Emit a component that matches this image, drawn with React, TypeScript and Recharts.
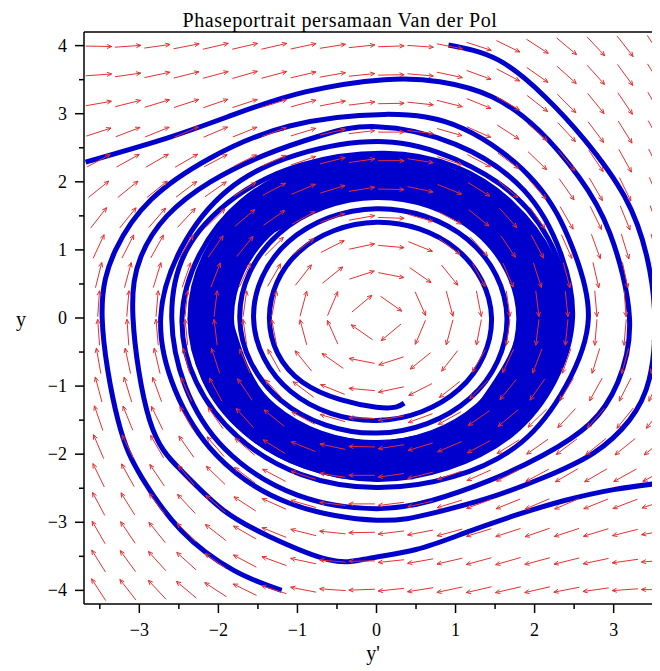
import React from 'react';
import { ComposedChart, XAxis, YAxis, Scatter, Line, ReferenceLine } from 'recharts';

// direction field grid (cell centres of a 20x20 grid)
const colU = [-3.515, -3.145, -2.775, -2.405, -2.035, -1.665, -1.295, -0.925, -0.555, -0.185,
  0.185, 0.555, 0.925, 1.295, 1.665, 2.035, 2.405, 2.775, 3.145, 3.515];
const rowV = [-3.99, -3.57, -3.15, -2.73, -2.31, -1.89, -1.47, -1.05, -0.63, -0.21,
  0.21, 0.63, 1.05, 1.47, 1.89, 2.31, 2.73, 3.15, 3.57, 3.99];

// arrow direction in degrees (counter-clockwise from +x), one row per rowV, bottom to top
const arrowAngles = [
  [123, 128, 133, 140, 147, 154, 162, 169, 176, -178, -174, -171, -168, -167, -167, -167, -169, -172, -176, 179],
  [122, 126, 132, 138, 145, 152, 160, 168, 175, -179, -174, -170, -167, -165, -164, -165, -166, -168, -172, -176],
  [120, 124, 129, 135, 142, 150, 158, 166, 174, -179, -173, -169, -165, -163, -162, -161, -162, -163, -166, -170],
  [118, 122, 127, 133, 139, 147, 156, 164, 173, 180, -173, -167, -163, -160, -158, -157, -157, -158, -159, -162],
  [116, 119, 124, 129, 136, 143, 152, 162, 171, 180, -172, -166, -161, -156, -153, -152, -150, -150, -151, -152],
  [113, 116, 120, 125, 131, 139, 148, 158, 168, 179, -171, -163, -157, -152, -148, -145, -143, -141, -141, -141],
  [109, 112, 116, 120, 125, 132, 141, 152, 164, 178, -170, -160, -151, -145, -140, -136, -133, -131, -129, -128],
  [105, 107, 110, 114, 118, 124, 132, 143, 158, 175, -168, -153, -142, -135, -129, -125, -121, -119, -117, -115],
  [100, 102, 103, 105, 108, 113, 119, 129, 145, 169, -162, -141, -128, -120, -115, -111, -109, -107, -105, -104],
  [94, 94, 95, 96, 97, 98, 101, 105, 114, 145, -140, -113, -105, -101, -98, -97, -96, -95, -95, -94],
  [86, 85, 85, 84, 83, 82, 79, 75, 67, 40, -35, -66, -75, -79, -82, -83, -84, -85, -86, -86],
  [76, 75, 73, 71, 69, 65, 60, 52, 39, 18, -11, -35, -51, -61, -67, -72, -75, -77, -78, -80],
  [65, 63, 61, 59, 55, 51, 45, 38, 27, 12, -5, -22, -37, -48, -56, -62, -66, -70, -73, -75],
  [52, 51, 49, 47, 44, 40, 35, 29, 20, 10, -2, -16, -28, -39, -48, -55, -60, -64, -68, -71],
  [39, 39, 39, 37, 35, 32, 28, 23, 17, 9, -1, -12, -22, -32, -41, -49, -55, -60, -64, -67],
  [28, 29, 30, 30, 28, 27, 24, 19, 14, 8, 0, -9, -18, -28, -37, -44, -51, -56, -61, -64],
  [18, 21, 22, 23, 23, 22, 20, 17, 13, 7, 0, -7, -16, -24, -33, -41, -47, -53, -58, -62],
  [10, 14, 17, 18, 19, 18, 17, 15, 11, 7, 1, -6, -14, -22, -30, -38, -45, -51, -56, -60],
  [4, 8, 12, 14, 15, 16, 15, 13, 10, 6, 1, -5, -12, -20, -28, -35, -42, -48, -54, -58],
  [-1, 4, 8, 11, 13, 13, 13, 12, 9, 6, 2, -4, -11, -18, -26, -33, -40, -47, -52, -57],
];

const xTicks = [-3.5, -3, -2.5, -2, -1.5, -1, -0.5, 0, 0.5, 1, 1.5, 2, 2.5, 3, 3.5];
const yTicks = [-4, -3.5, -3, -2.5, -2, -1.5, -1, -0.5, 0, 0.5, 1, 1.5, 2, 2.5, 3, 3.5, 4];

// trajectories [y', y]
const trajA = [[-3.68, 2.29], [-2.63, 2.65], [-1.8, 2.99], [-0.9, 3.32], [0.1, 3.5], [0.8, 3.47], [1.46, 3.25],
  [2.05, 2.76], [2.56, 2.07], [2.95, 1.25], [3.2, 0], [3.05, -0.95], [2.7, -1.55], [2.1, -2.02], [1.4, -2.4],
  [0.7, -2.68], [0, -2.8], [-1.0, -2.6], [-1.92, -1.92], [-2.42, -1.0], [-2.59, 0], [-2.4, 1.0], [-1.78, 1.78],
  [-0.95, 2.25], [0.1, 2.42], [1.0, 2.22], [1.7, 1.7], [2.22, 0.9], [2.38, 0], [2.2, -0.92], [1.67, -1.67],
  [0.9, -2.18], [0, -2.34]];
const trajB = [[0.91, 4.01], [1.54, 3.79], [2.13, 3.25], [2.63, 2.62], [3.14, 1.78], [3.42, 0.9], [3.52, 0],
  [3.45, -0.9], [3.2, -1.5], [2.75, -1.98], [2.1, -2.35], [1.4, -2.65], [0.7, -2.87], [0, -2.97], [-1.1, -2.72],
  [-2.02, -2.02], [-2.55, -1.05], [-2.73, 0], [-2.47, 1.02], [-1.88, 1.88], [-1.0, 2.4], [0.1, 2.59], [1.0, 2.33],
  [1.77, 1.77], [2.27, 0.93], [2.43, 0], [2.22, -0.92], [1.68, -1.68], [0.9, -2.17], [0, -2.34], [-0.9, -2.15],
  [-1.65, -1.65]];
const trajC = [[3.62, -2.42], [3.0, -2.52], [2.38, -2.68], [1.75, -2.9], [1.11, -3.16], [0.5, -3.4], [-0.1, -3.53],
  [-0.6, -3.55], [-1.37, -3.2], [-1.96, -2.8], [-2.47, -2.24], [-2.87, -1.5], [-3.08, 0], [-2.98, 0.9],
  [-2.65, 1.5], [-2.1, 2.0], [-1.4, 2.4], [-0.7, 2.68], [0, 2.81], [1.0, 2.55], [1.87, 1.87], [2.33, 0.95],
  [2.48, 0], [2.25, -0.93], [1.71, -1.71], [0.9, -2.2], [0, -2.37], [-0.9, -2.18], [-1.67, -1.67], [-2.18, -0.9],
  [-2.36, 0]];
const trajD = [[-1.2, -4.0], [-1.8, -3.71], [-2.47, -3.12], [-2.97, -2.34], [-3.27, -1.5], [-3.47, 0], [-3.3, 1.0],
  [-2.85, 1.74], [-2.1, 2.35], [-1.1, 2.82], [0.1, 2.99], [1.1, 2.78], [2.0, 2.0], [2.48, 1.03], [2.68, 0],
  [2.4, -0.99], [1.83, -1.83], [0.97, -2.33], [0, -2.49], [-0.95, -2.3], [-1.75, -1.75], [-2.28, -0.94], [-2.46, 0],
  [-2.24, 0.93], [-1.71, 1.71], [-0.92, 2.2], [0, 2.38]];
const trajE = [[0.35, -1.25], [0, -1.31], [-0.94, -0.94], [-1.355, 0], [-0.976, 0.976], [0, 1.405], [1.011, 1.011],
  [1.455, 0], [1.046, -1.046], [0, -1.505], [-1.082, -1.082], [-1.555, 0], [-1.117, 1.117], [0, 1.605],
  [1.153, 1.153], [1.65, 0], [1.181, -1.181], [0, -1.69], [-1.209, -1.209], [-1.73, 0], [-1.237, 1.237], [0, 1.77],
  [1.262, 1.262], [1.8, 0], [1.283, -1.283], [0, -1.83], [-1.305, -1.305], [-1.86, 0]];

// the dense band around the limit cycle
const band1 = [[-1.315, 1.315], [0, 1.86], [1.315, 1.315], [1.86, 0], [1.315, -1.315], [0, -1.86], [-1.315, -1.315],
  [-1.86, 0], [-1.315, 1.315], [0, 1.86], [1.315, 1.315], [1.86, 0], [1.315, -1.315]];
const band2 = [[-1.372, 1.372], [0, 1.94], [1.372, 1.372], [1.94, 0], [1.372, -1.372], [0, -1.94], [-1.372, -1.372],
  [-1.94, 0], [-1.372, 1.372], [0, 1.94], [1.372, 1.372], [1.94, 0], [1.372, -1.372]];
const band3 = [[-1.428, 1.428], [0, 2.02], [1.428, 1.428], [2.02, 0], [1.428, -1.428], [0, -2.02], [-1.428, -1.428],
  [-2.02, 0], [-1.428, 1.428], [0, 2.02], [1.428, 1.428], [2.02, 0], [1.428, -1.428]];
const band4 = [[-1.485, 1.485], [0, 2.1], [1.485, 1.485], [2.1, 0], [1.485, -1.485], [0, -2.1], [-1.485, -1.485],
  [-2.1, 0], [-1.485, 1.485], [0, 2.1], [1.485, 1.485], [2.1, 0], [1.485, -1.485]];
const band5 = [[-1.541, 1.541], [0, 2.18], [1.541, 1.541], [2.18, 0], [1.541, -1.541], [0, -2.18], [-1.541, -1.541],
  [-2.18, 0], [-1.541, 1.541], [0, 2.18], [1.541, 1.541], [2.18, 0], [1.541, -1.541]];
const band6 = [[-1.598, 1.598], [0, 2.26], [1.598, 1.598], [2.26, 0], [1.598, -1.598], [0, -2.26], [-1.598, -1.598],
  [-2.26, 0], [-1.598, 1.598], [0, 2.26], [1.598, 1.598], [2.26, 0], [1.598, -1.598]];
const band7 = [[-1.655, 1.655], [0, 2.34], [1.655, 1.655], [2.34, 0], [1.655, -1.655], [0, -2.34], [-1.655, -1.655],
  [-2.34, 0], [-1.655, 1.655], [0, 2.34], [1.655, 1.655], [2.34, 0], [1.655, -1.655]];

const BLUE = '#0000cd';
const RED = '#e63030';
const FONT = "'Liberation Serif', 'DejaVu Serif', serif";

const arrows = rowV.flatMap((v, j) => colU.map((u, i) => ({ u, v, a: arrowAngles[j][i] })));
const toPts = (p: number[][]) => p.map(([u, v]) => ({ u, v }));

const series = [
  { data: band1, w: 9 }, { data: band2, w: 9 }, { data: band3, w: 9 }, { data: band4, w: 9 },
  { data: band5, w: 9 }, { data: band6, w: 9 }, { data: band7, w: 8 },
  { data: trajA, w: 5 }, { data: trajB, w: 5 }, { data: trajC, w: 5 }, { data: trajD, w: 5 },
  { data: trajE, w: 5 },
];

const fmt = (v: number) => (v < 0 ? '\u2212' + Math.abs(v) : String(v));

const Arrow = (props: any) => {
  const { cx, cy } = props;
  const deg = props.payload?.a ?? props.a;
  const t = (deg * Math.PI) / 180;
  const dx = Math.cos(t);
  const dy = -Math.sin(t);
  const h = 13;
  const x2 = cx + dx * h;
  const y2 = cy + dy * h;
  const back = Math.atan2(-dy, -dx);
  const b = 5;
  const s = 0.42;
  return (
    <g stroke={RED} strokeWidth={1} fill="none">
      <line x1={cx - dx * h} y1={cy - dy * h} x2={x2} y2={y2} />
      <polyline
        points={`${x2 + b * Math.cos(back + s)},${y2 + b * Math.sin(back + s)} ${x2},${y2} ${x2 + b * Math.cos(back - s)},${y2 + b * Math.sin(back - s)}`}
      />
    </g>
  );
};

const XTick = (p: any) => {
  const { x, y, payload } = p;
  const major = Number.isInteger(payload.value);
  return (
    <g>
      <line x1={x} y1={y} x2={x} y2={y + (major ? 9 : 5)} stroke="#000" strokeWidth={1.5} />
      {major && (
        <text x={x} y={y + 32} textAnchor="middle" fontFamily={FONT} fontSize={18} fill="#000">
          {fmt(payload.value)}
        </text>
      )}
    </g>
  );
};

const YTick = (p: any) => {
  const { x, y, payload } = p;
  const major = Number.isInteger(payload.value);
  return (
    <g>
      <line x1={x} y1={y} x2={x - (major ? 9 : 5)} y2={y} stroke="#000" strokeWidth={1.5} />
      {major && (
        <text x={x - 17} y={y + 6} textAnchor="end" fontFamily={FONT} fontSize={18} fill="#000">
          {fmt(payload.value)}
        </text>
      )}
    </g>
  );
};

export default function App() {
  return (
    <div style={{ position: 'relative', width: 652, height: 663, overflow: 'hidden', background: '#fff' }}>
      <ComposedChart width={661} height={656} margin={{ top: 24, right: 0, bottom: 0, left: 0 }}>
        <XAxis
          type="number"
          dataKey="u"
          domain={[-3.7, 3.7]}
          allowDataOverflow
          ticks={xTicks}
          interval={0}
          height={60}
          tickSize={0}
          tickMargin={0}
          tickLine={false}
          axisLine={{ stroke: '#000', strokeWidth: 1.5 }}
          tick={XTick}
        />
        <YAxis
          type="number"
          dataKey="v"
          domain={[-4.2, 4.2]}
          allowDataOverflow
          ticks={yTicks}
          interval={0}
          width={76}
          tickSize={0}
          tickMargin={0}
          tickLine={false}
          axisLine={{ stroke: '#000', strokeWidth: 1.5 }}
          tick={YTick}
        />
        <ReferenceLine y={4.2} stroke="#000" strokeWidth={1.5} />
        <Scatter data={arrows} shape={Arrow} isAnimationActive={false} />
        {series.map((s, k) => (
          <Line
            key={k}
            data={toPts(s.data)}
            dataKey="v"
            type="natural"
            stroke={BLUE}
            strokeWidth={s.w}
            dot={false}
            activeDot={false}
            isAnimationActive={false}
          />
        ))}
      </ComposedChart>
      <svg width={652} height={663} style={{ position: 'absolute', left: 0, top: 0, pointerEvents: 'none' }}>
        <text x={332} y={19} textAnchor="middle" fontFamily={FONT} fontSize={20} letterSpacing={0.6} fill="#000">
          Phaseportrait persamaan Van der Pol
        </text>
        <text x={13} y={318} textAnchor="middle" fontFamily={FONT} fontSize={20} fill="#000">y</text>
        <text x={365} y={652} textAnchor="middle" fontFamily={FONT} fontSize={20} fill="#000">y'</text>
      </svg>
    </div>
  );
}
